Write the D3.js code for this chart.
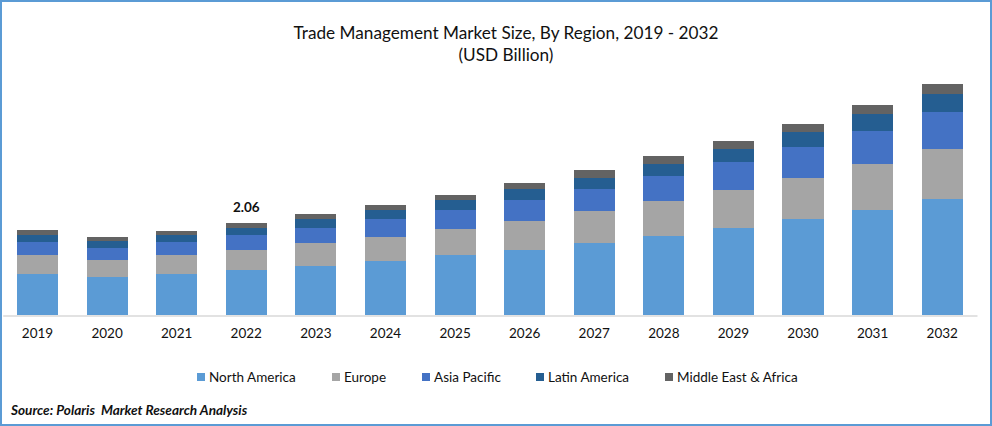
<!DOCTYPE html>
<html>
<head>
<meta charset="utf-8">
<script src="https://d3js.org/d3.v7.min.js"></script>
<style>
  html, body { margin: 0; padding: 0; background: #fff; }
  svg text { font-family: Lato, "Open Sans", sans-serif; fill: #111; white-space: pre; }
  .domain { stroke: #d9d9d9; stroke-width: 1.5; }
  rect { shape-rendering: crispEdges; }
</style>
</head>
<body>
<svg id="chart" width="992" height="426"></svg>
<script>
const years = ['2019','2020','2021','2022','2023','2024','2025','2026','2027','2028','2029','2030','2031','2032'];
const regions = ['North America','Europe','Asia Pacific','Latin America','Middle East & Africa'];
const colors = ['#5b9bd5','#a5a5a5','#4472c4','#255e91','#636363'];

const northAmerica = [0.92,0.84,0.92,1.01,1.10,1.21,1.34,1.46,1.61,1.77,1.95,2.15,2.35,2.60];
const europe       = [0.42,0.40,0.42,0.44,0.51,0.54,0.58,0.65,0.72,0.78,0.85,0.92,1.03,1.12];
const asiaPacific  = [0.30,0.25,0.29,0.34,0.34,0.40,0.43,0.47,0.49,0.56,0.63,0.69,0.74,0.83];
const latinAmerica = [0.15,0.16,0.16,0.16,0.20,0.20,0.22,0.25,0.25,0.27,0.29,0.34,0.38,0.40];
const middleEast   = [0.11,0.09,0.09,0.11,0.11,0.11,0.11,0.13,0.18,0.18,0.18,0.18,0.20,0.22];

const seriesValues = [northAmerica, europe, asiaPacific, latinAmerica, middleEast];
const legendX = [197, 332, 422, 536, 665];

const svg = d3.select('#chart');

const rows = years.map((year, i) => {
    const row = { year: year };
    regions.forEach((r, j) => { row[r] = seriesValues[j][i]; });
    return row;
});

const xScale = d3.scaleBand()
    .domain(years)
    .range([2.7, 977])
    .paddingInner(0.41)
    .paddingOuter(0.205);

// 2.06 sits 92px above the baseline
const yScale = d3.scaleLinear()
    .domain([0, 2.06])
    .range([315, 223]);

const fillScale = d3.scaleOrdinal()
    .domain(regions)
    .range(colors);

const stackLayout = d3.stack().keys(regions);

svg.selectAll('g.layer')
    .data(stackLayout(rows))
    .enter()
    .append('g')
    .attr('class', 'layer')
    .attr('fill', d => fillScale(d.key))
    .selectAll('rect')
    .data(d => d)
    .enter()
    .append('rect')
    .attr('x', d => xScale(d.data.year))
    .attr('y', d => yScale(d[1]))
    .attr('width', xScale.bandwidth())
    .attr('height', d => yScale(d[0]) - yScale(d[1]));

const xAxis = svg.append('g')
    .attr('transform', 'translate(0,315.5)')
    .call(d3.axisBottom(xScale).tickSize(0).tickPadding(12.5));
xAxis.selectAll('text').style('font-size', '13.5px');

// label on 2022 only
svg.append('text')
    .attr('x', xScale('2022') + xScale.bandwidth() / 2)
    .attr('y', yScale(2.06) - 11)
    .attr('text-anchor', 'middle')
    .style('font-size', '13.5px')
    .style('font-weight', 'bold')
    .text('2.06');

svg.append('text')
    .attr('x', 506).attr('y', 38.5)
    .attr('text-anchor', 'middle')
    .style('font-size', '17.2px')
    .text('Trade Management Market Size, By Region, 2019 - 2032');

svg.append('text')
    .attr('x', 506).attr('y', 61)
    .attr('text-anchor', 'middle')
    .style('font-size', '17.2px')
    .text('(USD Billion)');

const legend = svg.selectAll('g.legend')
    .data(regions)
    .enter()
    .append('g')
    .attr('class', 'legend')
    .attr('transform', (d, i) => `translate(${legendX[i]},372)`);

legend.append('rect')
    .attr('width', 8)
    .attr('height', 8)
    .attr('y', 1)
    .attr('fill', d => fillScale(d));

legend.append('text')
    .attr('x', 12)
    .attr('y', 9.5)
    .style('font-size', '13.5px')
    .text(d => d);

svg.append('text')
    .attr('x', 11).attr('y', 415)
    .style('font-size', '13.6px')
    .style('font-weight', 'bold')
    .style('font-style', 'italic')
    .text('Source: Polaris  Market Research Analysis');

// frame
svg.append('rect')
    .attr('x', 1).attr('y', 1)
    .attr('width', 990).attr('height', 424)
    .attr('fill', 'none')
    .attr('stroke', '#5b9bd5')
    .attr('stroke-width', 2);
</script>
</body>
</html>
